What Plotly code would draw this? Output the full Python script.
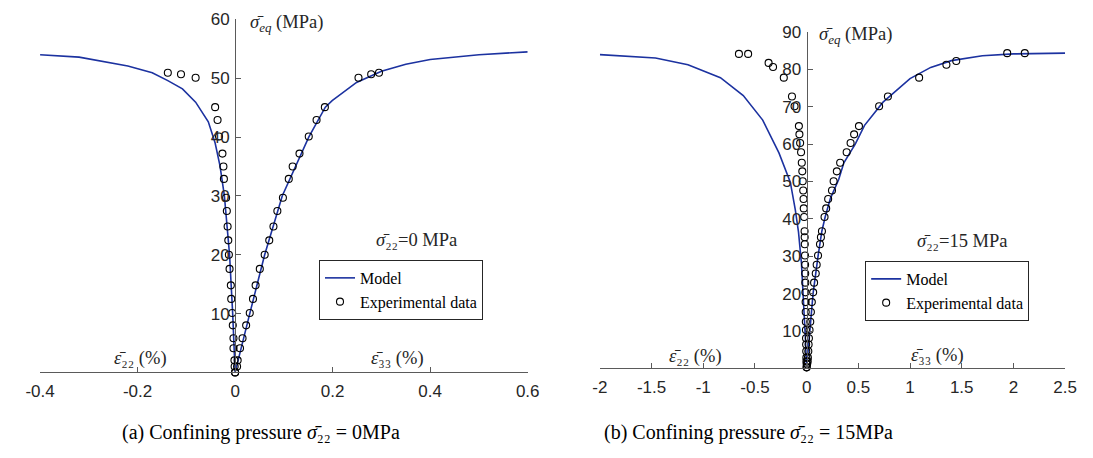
import plotly.graph_objects as go

W, H = 1093, 458

# ---------------- data: panel (a), confining pressure 0 MPa ----------------
model_a_x = [-0.40, -0.32, -0.22, -0.17, -0.138, -0.108, -0.081, -0.055, -0.041, -0.031,
             -0.022, -0.0114, -0.005, 0.0, 0.030, 0.0606, 0.0966, 0.151, 0.185, 0.199,
             0.249, 0.30, 0.35, 0.40, 0.50, 0.60]
model_a_y = [54.0, 53.6, 52.1, 50.95, 49.6, 48.2, 45.95, 42.6, 39.0, 35.1,
             30.0, 20.0, 10.0, 0.0, 10.0, 20.0, 30.0, 40.0, 45.1, 46.2,
             49.3, 51.2, 52.4, 53.2, 54.0, 54.5]

exp_a_y = [0, 1.0, 2.05, 4.1, 5.8, 8.0, 10.1, 12.5, 14.8, 17.6, 20.0, 22.45, 24.8,
           27.45, 29.7, 32.9, 35.0, 37.2, 40.1, 42.9, 45.1, 50.1, 50.7, 50.95]
exp_a_x22 = [0, -0.001, -0.0014, -0.0034, -0.0034, -0.0048, -0.006, -0.008, -0.0088,
             -0.0114, -0.0128, -0.014, -0.0154, -0.017, -0.0185, -0.023, -0.024, -0.026,
             -0.033, -0.036, -0.041, -0.081, -0.111, -0.138]
exp_a_x33 = [0, 0.004, 0.0052, 0.010, 0.0152, 0.0226, 0.030, 0.0366, 0.042, 0.0506,
             0.0606, 0.070, 0.0786, 0.0866, 0.098, 0.110, 0.118, 0.132, 0.151, 0.167,
             0.184, 0.253, 0.279, 0.295]

# ---------------- data: panel (b), confining pressure 15 MPa ----------------
model_b_x = [-2.0, -1.462, -1.148, -0.834, -0.613, -0.425, -0.268, -0.158, -0.11, -0.079,
             -0.05, -0.028, -0.012, 0.0, 0.03, 0.062, 0.11, 0.147, 0.179, 0.23,
             0.31, 0.36, 0.47, 0.56, 0.739, 1.0, 1.2, 1.4, 1.7, 2.0, 2.5]
model_b_y = [83.9, 83.0, 81.2, 77.75, 72.95, 66.4, 57.65, 49.8, 42.5, 36.5,
             28.0, 18.0, 8.0, 0.0, 10.0, 20.0, 30.0, 36.7, 40.5, 45.5,
             50.5, 55.0, 60.0, 65.0, 71.2, 77.5, 80.5, 82.3, 83.6, 84.1, 84.3]

exp_b_y22 = [0.3, 1.2, 1.9, 2.9, 4.6, 6.4, 8.1, 10.3, 12.5, 15.1, 17.75, 20.35, 22.95,
             25.4, 27.75, 30.2, 33.2, 35.1, 36.7, 40.5, 42.8, 45.3, 47.6, 50.05, 52.7,
             55.0, 57.8, 60.3, 62.6, 64.8, 70.1, 72.7, 77.75, 80.6, 81.7, 84.1, 84.1]
exp_b_x22 = [0, 0, -0.002, -0.003, -0.004, -0.005, -0.006, -0.007, -0.008, -0.009, -0.010,
             -0.012, -0.013, -0.014, -0.015, -0.016, -0.018, -0.019, -0.020, -0.024, -0.028,
             -0.030, -0.033, -0.038, -0.042, -0.047, -0.054, -0.063, -0.070, -0.075, -0.117,
             -0.142, -0.221, -0.325, -0.368, -0.566, -0.655]
exp_b_y33 = [0.3, 1.2, 1.9, 2.9, 4.6, 6.4, 8.1, 10.3, 12.5, 15.1, 17.75, 20.35, 22.95,
             25.4, 27.75, 30.2, 33.2, 35.1, 36.7, 40.5, 42.8, 45.3, 47.6, 50.05, 52.7,
             55.0, 57.8, 60.3, 62.6, 64.8, 70.1, 72.7, 77.75, 81.2, 82.2, 84.3, 84.3]
exp_b_x33 = [0, 0.005, 0.010, 0.012, 0.016, 0.019, 0.022, 0.028, 0.035, 0.041, 0.050,
             0.063, 0.072, 0.088, 0.097, 0.110, 0.129, 0.138, 0.148, 0.173, 0.189, 0.208,
             0.245, 0.261, 0.292, 0.324, 0.387, 0.425, 0.459, 0.506, 0.701, 0.786, 1.088,
             1.352, 1.447, 1.94, 2.11]

ticks_a_x = [-0.4, -0.2, 0, 0.2, 0.4, 0.6]
ticktext_a_x = ["-0.4", "-0.2", "0", "0.2", "0.4", "0.6"]
ticks_a_y = [10, 20, 30, 40, 50, 60]
ticks_b_x = [-2, -1.5, -1, -0.5, 0, 0.5, 1, 1.5, 2, 2.5]
ticktext_b_x = ["-2", "-1.5", "-1", "-0.5", "0", "0.5", "1", "1.5", "2", "2.5"]
ticks_b_y = [10, 20, 30, 40, 50, 60, 70, 80, 90]


def fx(px):
    return px / W


def fy(py):
    return 1 - py / H


BLUE = "#1c32a0"
SERIF = "Liberation Serif, DejaVu Serif, Times New Roman, serif"
SANS = "Liberation Sans, Arial, sans-serif"

fig = go.Figure()

marker = dict(symbol="circle-open", size=7, color="black", line=dict(width=1.1, color="black"))

fig.add_trace(go.Scatter(x=model_a_x, y=model_a_y, mode="lines", name="Model",
                         line=dict(color=BLUE, width=1.6), xaxis="x", yaxis="y",
                         legend="legend", cliponaxis=False))
fig.add_trace(go.Scatter(x=exp_a_x22 + exp_a_x33, y=exp_a_y + exp_a_y, mode="markers",
                         name="Experimental data", marker=marker, xaxis="x", yaxis="y",
                         legend="legend", cliponaxis=False))
fig.add_trace(go.Scatter(x=model_b_x, y=model_b_y, mode="lines", name="Model",
                         line=dict(color=BLUE, width=1.6), xaxis="x2", yaxis="y2",
                         legend="legend2", cliponaxis=False))
fig.add_trace(go.Scatter(x=exp_b_x22 + exp_b_x33, y=exp_b_y22 + exp_b_y33, mode="markers",
                         name="Experimental data", marker=marker, xaxis="x2", yaxis="y2",
                         legend="legend2", cliponaxis=False))

axis_common = dict(showgrid=False, zeroline=False, showline=True, linecolor="#5a5a5a",
                   linewidth=1, ticks="inside", ticklen=5, tickcolor="#5a5a5a", tickwidth=1,
                   tickfont=dict(family=SANS, size=17, color="#262626"))

legend_common = dict(xanchor="left", yanchor="top", bordercolor="#262626", borderwidth=1,
                     bgcolor="white", font=dict(family=SERIF, size=16, color="black"),
                     itemwidth=30, tracegroupgap=0)

fig.update_layout(
    width=W, height=H, margin=dict(l=0, r=0, t=0, b=0),
    paper_bgcolor="white", plot_bgcolor="white",
    xaxis=dict(domain=[fx(25.7), fx(525.7)], range=[-0.4, 0.6], anchor="y",
               tickvals=ticks_a_x, ticktext=ticktext_a_x, ticklabelstandoff=3, **axis_common),
    yaxis=dict(domain=[fy(370.7), fy(10.7)], range=[0, 60], anchor="free",
               position=fx(225.7), tickvals=ticks_a_y, ticklabelstandoff=2, **axis_common),
    xaxis2=dict(domain=[fx(599.7), fx(1076.7)], range=[-2, 2.5], anchor="y2",
                tickvals=ticks_b_x, ticktext=ticktext_b_x, ticklabelstandoff=3, **axis_common),
    yaxis2=dict(domain=[fy(366.7), fy(23.3)], range=[0, 90], anchor="free",
                position=fx(811.7), tickvals=ticks_b_y, ticklabelstandoff=2, **axis_common),
    legend=dict(x=fx(311.7), y=fy(256), **legend_common),
    legend2=dict(x=fx(871.7), y=fy(257), **legend_common),
    showlegend=True,
)

ann_font = dict(family=SERIF, size=18.5, color="#262626")
sig_eq = ('<i>σ̄</i><span style="font-size:13px;baseline-shift:-4px"><i>eq</i></span>'
          ' (MPa)')
annotations = [
    dict(x=fx(239), y=fy(15), text=sig_eq, xanchor="left"),
    dict(x=fx(129), y=fy(357), text="<i>ε̄</i>₂₂ (%)", xanchor="center"),
    dict(x=fx(392), y=fy(356), text="<i>ε̄</i>₃₃ (%)", xanchor="center"),
    dict(x=fx(412), y=fy(236), text="<i>σ̄</i>₂₂=0 MPa", xanchor="center"),
    dict(x=fx(822), y=fy(27), text=sig_eq, xanchor="left"),
    dict(x=fx(698), y=fy(354), text="<i>ε̄</i>₂₂ (%)", xanchor="center"),
    dict(x=fx(946), y=fy(353), text="<i>ε̄</i>₃₃ (%)", xanchor="center"),
    dict(x=fx(972), y=fy(237), text="<i>σ̄</i>₂₂=15 MPa", xanchor="center"),
]
for a in annotations:
    a.update(xref="paper", yref="paper", yanchor="middle", showarrow=False, font=ann_font)

cap_font = dict(family=SERIF, size=20, color="black")
annotations += [
    dict(x=fx(252), y=fy(432), xref="paper", yref="paper", showarrow=False, font=cap_font,
         text="(a) Confining pressure <i>σ̄</i>₂₂ = 0MPa", xanchor="center",
         yanchor="middle"),
    dict(x=fx(752), y=fy(432), xref="paper", yref="paper", showarrow=False, font=cap_font,
         text="(b) Confining pressure <i>σ̄</i>₂₂ = 15MPa", xanchor="center",
         yanchor="middle"),
]
fig.update_layout(annotations=annotations)

fig.write_html("out.html")
